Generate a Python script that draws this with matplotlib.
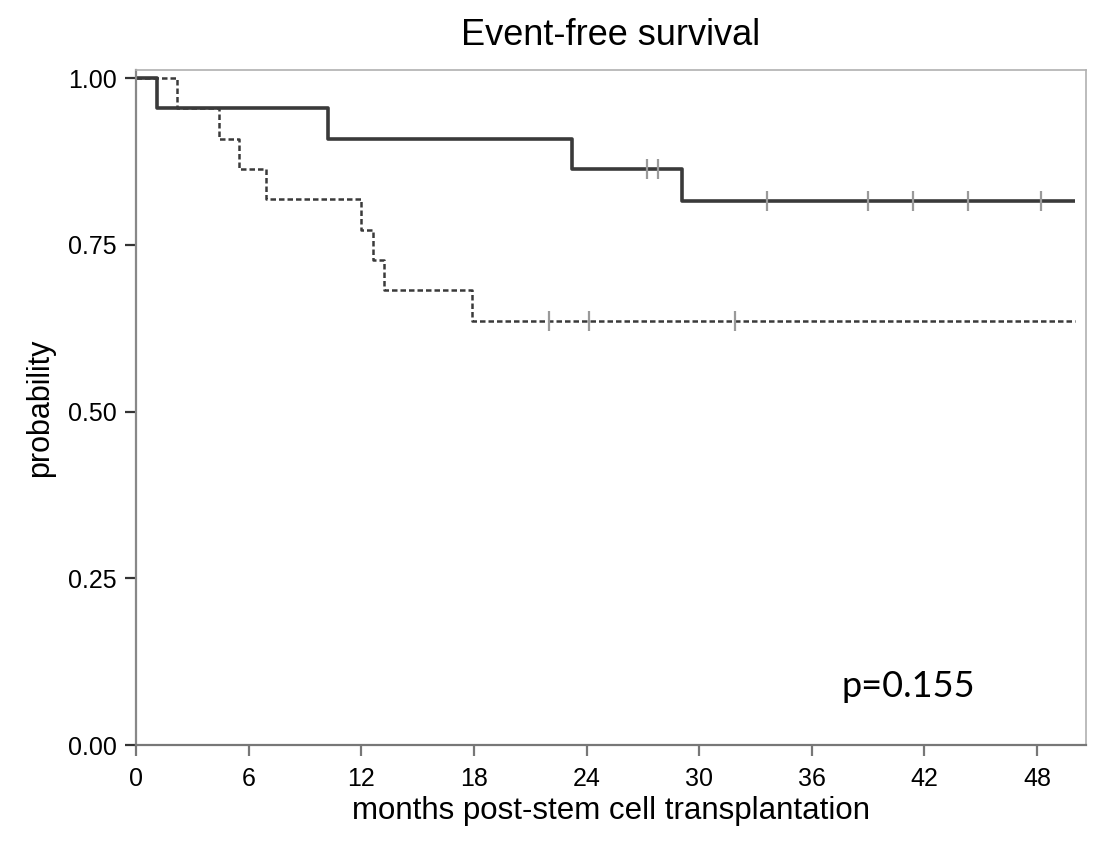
import numpy as np
import matplotlib
matplotlib.use("Agg")
from matplotlib import pyplot as plt

# Kaplan-Meier steps (months, probability)
solid_times = [0, 1.1, 10.2, 23.2, 29.1]
solid_surv = [1.0, 0.955, 0.909, 0.864, 0.815]
solid_censor = [27.2, 27.8, 33.6, 39.0, 41.4, 44.3, 48.2]

dashed_times = [0, 2.2, 4.4, 5.5, 6.9, 12.0, 12.6, 13.2, 17.9]
dashed_surv = [1.0, 0.955, 0.909, 0.864, 0.818, 0.773, 0.727, 0.682, 0.636]
dashed_censor = [22.0, 24.1, 31.9]

follow_up_end = 50.0
x_ticks = [0, 6, 12, 18, 24, 30, 36, 42, 48]
y_ticks = [0.0, 0.25, 0.5, 0.75, 1.0]

plt.rcParams['font.family'] = ['Liberation Sans', 'DejaVu Sans']


def step_value(times, surv, t):
    idx = np.searchsorted(times, t, side='right') - 1
    return np.asarray(surv)[idx]


fig = plt.figure(figsize=(10.98, 8.44), dpi=100)
ax = fig.add_axes([0.124, 0.117, 0.865, 0.8])

st = solid_times + [follow_up_end]
ss = solid_surv + [solid_surv[-1]]
ax.step(st, ss, where='post', color='#3a3a3a', lw=2.6, solid_capstyle='butt')

dt = dashed_times + [follow_up_end]
ds = dashed_surv + [dashed_surv[-1]]
ax.step(dt, ds, where='post', color='#3a3a3a', lw=1.8, linestyle=(0, (2.2, 1.2)))

ax.plot(solid_censor, step_value(solid_times, solid_surv, solid_censor), '|',
        color='#9a9a9a', ms=14, mew=1.6)
ax.plot(dashed_censor, step_value(dashed_times, dashed_surv, dashed_censor), '|',
        color='#9a9a9a', ms=14, mew=1.6)

ax.set_xlim(0, 50.6)
ax.set_ylim(0, 1.012)
ax.set_xticks(x_ticks)
ax.set_yticks(y_ticks)
ax.set_yticklabels(['%.2f' % v for v in y_ticks])
ax.tick_params(axis='y', labelsize=18, length=8, width=1.6, color='#333333', pad=6)
ax.tick_params(axis='x', labelsize=18, length=8, width=1.6, color='#777777', pad=8)

for side in ['top', 'right']:
    ax.spines[side].set_color('#b0b0b0')
    ax.spines[side].set_linewidth(1.2)
ax.spines['left'].set_color('#888888')
ax.spines['left'].set_linewidth(1.6)
ax.spines['bottom'].set_color('#777777')
ax.spines['bottom'].set_linewidth(1.6)

ax.set_title('Event-free survival', fontsize=26, pad=18)
ax.set_xlabel('months post-stem cell transplantation', fontsize=22.5, labelpad=3)
ax.set_ylabel('probability', fontsize=22, labelpad=9)

ax.text(0.743, 0.087, 'p=0.155', transform=ax.transAxes, fontsize=26,
        family=['Lato', 'DejaVu Sans'], ha='left', va='center')

fig.savefig('out.png', dpi=100)
